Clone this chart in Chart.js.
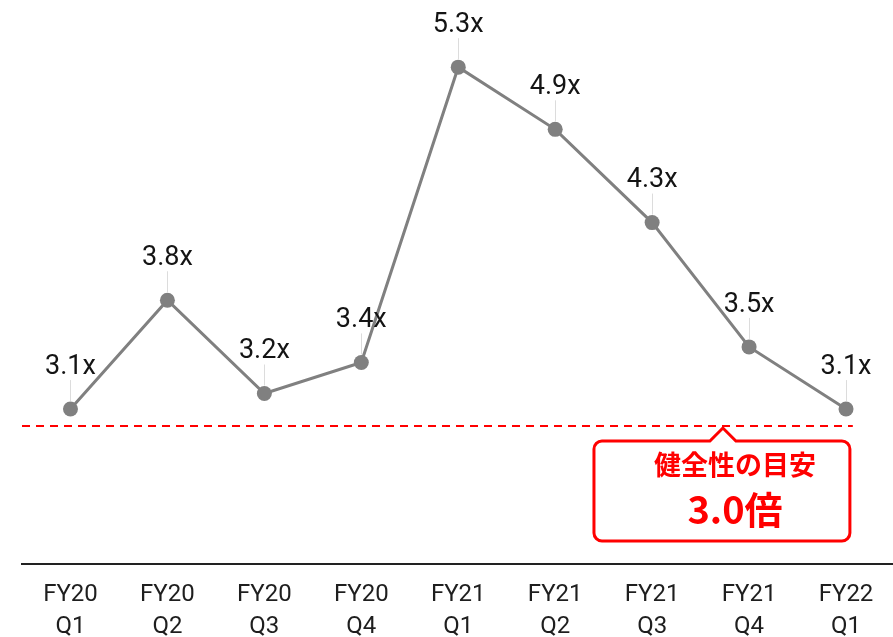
<!DOCTYPE html>
<html lang="ja">
<head>
<meta charset="utf-8">
<script src="https://cdn.jsdelivr.net/npm/chart.js@4.4.1/dist/chart.umd.min.js"></script>
<style>
  html, body { margin: 0; padding: 0; background: #fff; overflow: hidden; }
  #wrap { width: 902px; height: 637px; position: relative; }
</style>
</head>
<body>
<div id="wrap"><canvas id="leverageChart"></canvas></div>
<script>
// Quarter labels (two lines each)
const quarters = [
    ['FY20', 'Q1'], ['FY20', 'Q2'], ['FY20', 'Q3'], ['FY20', 'Q4'],
    ['FY21', 'Q1'], ['FY21', 'Q2'], ['FY21', 'Q3'], ['FY21', 'Q4'],
    ['FY22', 'Q1']
];
// Ratio per quarter
const ratios = [3.1, 3.8, 3.2, 3.4, 5.3, 4.9, 4.3, 3.5, 3.1];
// Guideline level and callout text
const targetRatio = 3.0;
const calloutTitle = '健全性の目安';
const calloutValue = '3.0倍';

const LINE_GRAY = '#808080';
const RED = '#ff0000';

/**
 * Value labels with a thin leader line above each point
 */
const valueLabels = {
    id: 'valueLabels',
    afterDatasetsDraw(chart) {
        const { ctx } = chart;
        const meta = chart.getDatasetMeta(0);
        ctx.save();
        meta.data.forEach((pt, i) => {
            // leader
            ctx.strokeStyle = '#dcdcdc';
            ctx.lineWidth = 1;
            ctx.beginPath();
            ctx.moveTo(Math.round(pt.x) + 0.5, pt.y - 8);
            ctx.lineTo(Math.round(pt.x) + 0.5, pt.y - 29);
            ctx.stroke();
            // text
            ctx.fillStyle = '#141414';
            ctx.font = '27px Roboto';
            ctx.textAlign = 'center';
            ctx.textBaseline = 'middle';
            ctx.fillText(ratios[i].toFixed(1) + 'x', pt.x, pt.y - 42);
        });
        ctx.restore();
    }
};

/**
 * Dashed guideline and the callout box under it
 */
const guideline = {
    id: 'guideline',
    beforeDatasetsDraw(chart) {
        const { ctx, chartArea } = chart;
        const x = chart.scales.x;
        const y = chart.scales.y;
        const yLine = Math.round(y.getPixelForValue(targetRatio)) + 1;

        ctx.save();
        ctx.strokeStyle = RED;
        ctx.lineWidth = 2;
        ctx.setLineDash([8, 6]);
        ctx.beginPath();
        ctx.moveTo(chartArea.left, yLine);
        ctx.lineTo(x.getPixelForValue(8.07), yLine);
        ctx.stroke();
        ctx.setLineDash([]);

        // callout
        const left = x.getPixelForValue(5.4);
        const right = x.getPixelForValue(8.04);
        const top = yLine + 15;
        const bottom = top + 100;
        const tipX = x.getPixelForValue(6.73);
        const r = 8;

        ctx.beginPath();
        ctx.moveTo(left + r, top);
        ctx.lineTo(tipX - 13, top);
        ctx.lineTo(tipX, top - 13);
        ctx.lineTo(tipX + 13, top);
        ctx.lineTo(right - r, top);
        ctx.arcTo(right, top, right, top + r, r);
        ctx.lineTo(right, bottom - r);
        ctx.arcTo(right, bottom, right - r, bottom, r);
        ctx.lineTo(left + r, bottom);
        ctx.arcTo(left, bottom, left, bottom - r, r);
        ctx.lineTo(left, top + r);
        ctx.arcTo(left, top, left + r, top, r);
        ctx.closePath();
        ctx.fillStyle = '#fff';
        ctx.fill();
        ctx.strokeStyle = RED;
        ctx.lineWidth = 3;
        ctx.stroke();

        const cx = left + 141;
        ctx.fillStyle = RED;
        ctx.textAlign = 'center';
        ctx.textBaseline = 'middle';
        ctx.font = 'bold 27px "Noto Sans CJK JP"';
        ctx.fillText(calloutTitle, cx, top + 24);
        ctx.font = 'bold 38px "Noto Sans CJK JP"';
        ctx.fillText(calloutValue, cx, top + 69);
        ctx.restore();
    }
};

new Chart(document.getElementById('leverageChart'), {
    type: 'line',
    data: {
        labels: quarters,
        datasets: [{
            data: ratios,
            borderColor: LINE_GRAY,
            borderWidth: 3,
            backgroundColor: LINE_GRAY,
            pointBackgroundColor: LINE_GRAY,
            pointBorderColor: LINE_GRAY,
            pointBorderWidth: 0,
            pointRadius: 7.5,
            tension: 0,
            fill: false
        }]
    },
    options: {
        responsive: true,
        maintainAspectRatio: false,
        animation: false,
        layout: { padding: { left: 22, right: 0, top: 0, bottom: 0 } },
        plugins: {
            legend: { display: false },
            tooltip: { enabled: false }
        },
        scales: {
            x: {
                offset: true,
                grid: { display: false, drawTicks: false },
                border: { display: true, color: '#222', width: 2 },
                ticks: {
                    color: '#1e1e1e',
                    padding: 15,
                    maxRotation: 0,
                    autoSkip: false,
                    font: { family: 'Roboto', size: 24, lineHeight: 1.333 }
                },
                afterFit(scale) { scale.height = 73; }
            },
            y: {
                display: false,
                min: 2.103,
                max: 5.684
            }
        }
    },
    plugins: [guideline, valueLabels]
});
</script>
</body>
</html>
